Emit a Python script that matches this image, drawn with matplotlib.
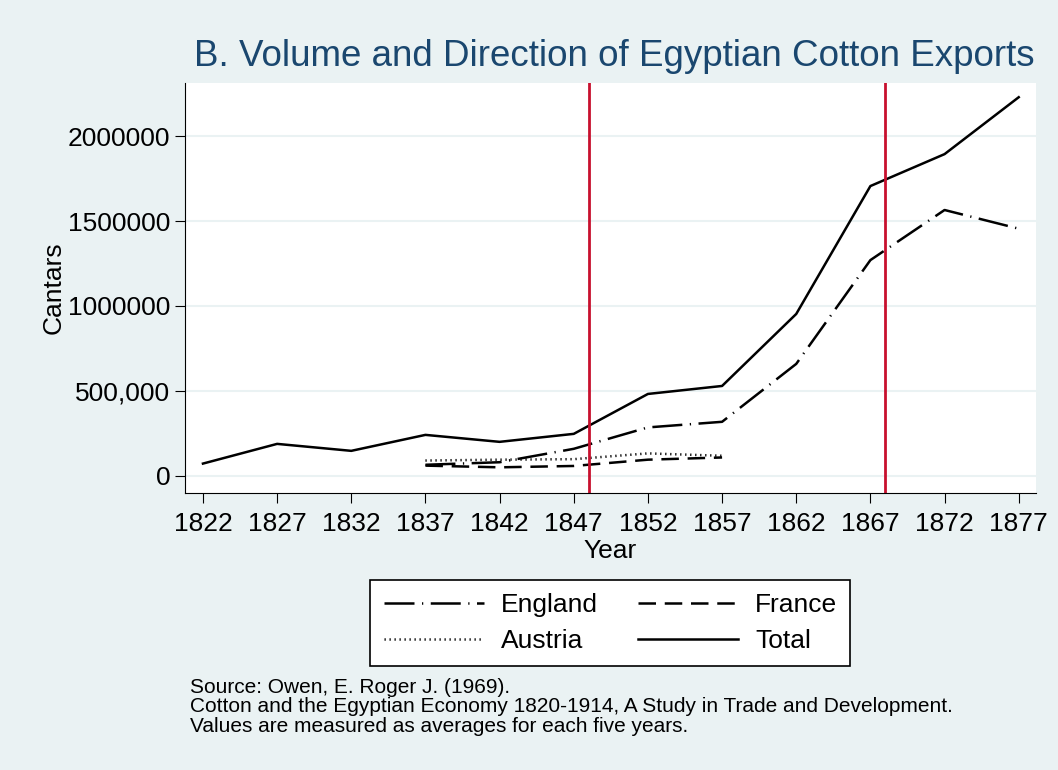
import matplotlib.pyplot as plt

plt.rcParams['font.family'] = ['Liberation Sans', 'DejaVu Sans']

years = [1822, 1827, 1832, 1837, 1842, 1847, 1852, 1857, 1862, 1867, 1872, 1877]
total = [72000, 188000, 147000, 241000, 200000, 247000, 482000, 529000, 953000, 1706000, 1894000, 2229000]

years_sub = [1837, 1842, 1847, 1852, 1857]
england_years = [1837, 1842, 1847, 1852, 1857, 1862, 1867, 1872, 1877]
england = [65000, 80000, 159000, 285000, 318000, 659000, 1270000, 1565000, 1455000]
france = [60000, 50000, 58000, 95000, 108000]
austria = [90000, 95000, 98000, 132000, 118000]

events = [1848, 1868]
yticks = [0, 500000, 1000000, 1500000, 2000000]
ytick_labels = ["0", "500,000", "1000000", "1500000", "2000000"]

bg = "#eaf2f3"
fig = plt.figure(figsize=(10.58, 7.70), dpi=100, facecolor=bg)
ax = fig.add_axes([0.175, 0.360, 0.804, 0.532])
ax.set_facecolor("white")

ax.plot(england_years, england, color="black", lw=1.8, ls=(0, (12, 3, 0.5, 3)), label="England")
ax.plot(years_sub, austria, color="black", lw=1.8, ls=(0, (0.5, 1.5)), label="Austria")
ax.plot(years_sub, france, color="black", lw=1.8, ls=(0, (7, 3.5)), label="France")
ax.plot(years, total, color="black", lw=1.8, label="Total")

for e in events:
    ax.axvline(e, color="#c8102e", lw=2)

ax.set_xlim(1820.8, 1878.15)
ax.set_ylim(-100000, 2311765)
ax.set_xticks(years)
ax.set_yticks(yticks)
ax.set_yticklabels(ytick_labels)
ax.yaxis.grid(True, color=bg, lw=1.5)
ax.set_axisbelow(True)
for s in ["top", "right"]:
    ax.spines[s].set_visible(False)
ax.tick_params(labelsize=19, length=7, color="black")
ax.tick_params(axis="x", pad=7)
ax.set_xlabel("Year", fontsize=19, labelpad=2)
ax.set_ylabel("Cantars", fontsize=19, labelpad=2)

fig.text(0.581, 0.926, "B. Volume and Direction of Egyptian Cotton Exports",
         ha="center", va="center", fontsize=26.5, color="#1a476f")

leg = ax.legend(loc="upper center", bbox_to_anchor=(0.5, -0.18), ncol=2,
                fontsize=19, frameon=True, fancybox=False, edgecolor="black",
                handlelength=3.8, columnspacing=1.5, borderpad=0.5,
                labelspacing=0.45, handletextpad=0.65, framealpha=1)
leg.get_frame().set_linewidth(1.2)

notes = ("Source: Owen, E. Roger J. (1969).\n"
         "Cotton and the Egyptian Economy 1820-1914, A Study in Trade and Development.\n"
         "Values are measured as averages for each five years.")
fig.text(0.18, 0.120, notes, fontsize=15, va="top", ha="left", linespacing=1.05)

fig.savefig("out.png", dpi=100, facecolor=bg)
